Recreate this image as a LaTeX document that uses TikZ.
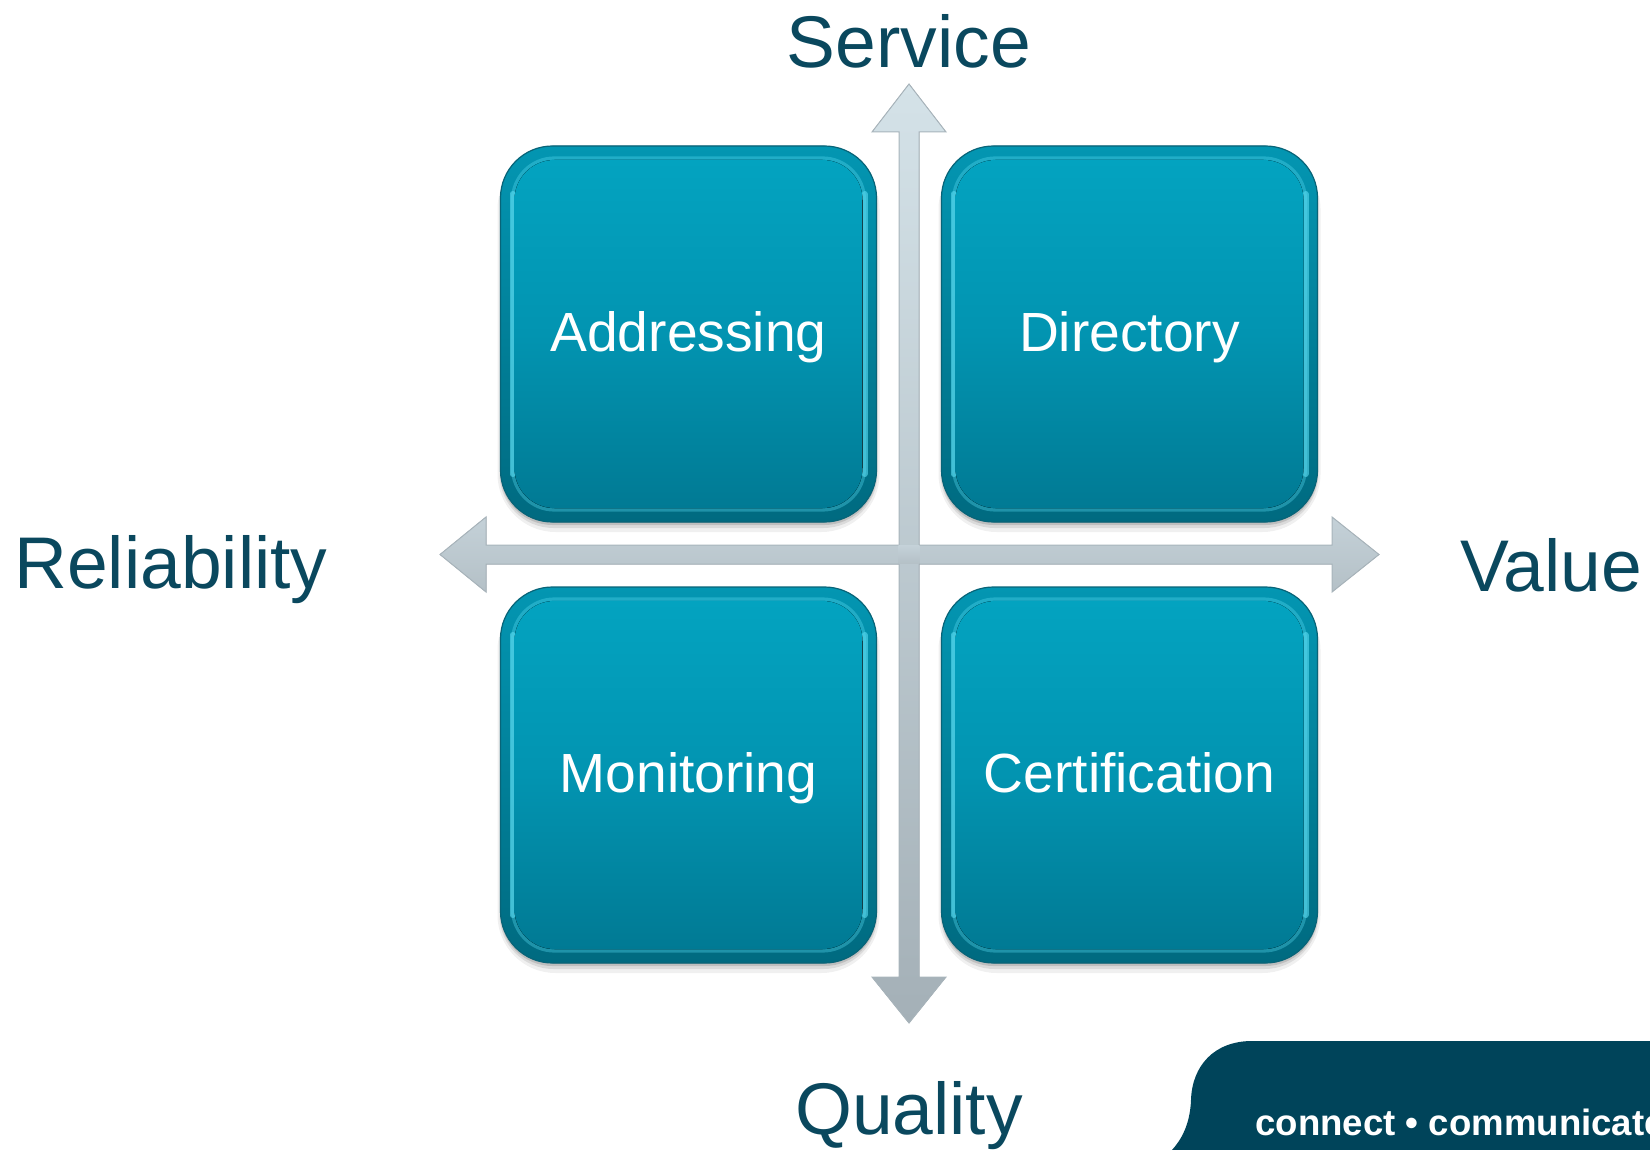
\documentclass[tikz,border=0pt]{standalone}
\usepackage{fontspec}
\setmainfont{Liberation Sans}
\usetikzlibrary{calc}
\definecolor{axistext}{RGB}{10,72,94}
\definecolor{bannerfill}{RGB}{0,68,90}
\definecolor{arrowtop}{RGB}{212,226,232}
\definecolor{arrowbot}{RGB}{164,176,183}
\definecolor{arrowmid}{RGB}{196,209,216}
\definecolor{arrowedge}{RGB}{168,180,187}
\definecolor{tileT}{RGB}{3,163,192}
\definecolor{tileM}{RGB}{2,148,177}
\definecolor{tileB}{RGB}{1,122,148}
\definecolor{edgeT}{RGB}{3,150,178}
\definecolor{edgeB}{RGB}{0,106,128}
\definecolor{tilehi}{RGB}{90,220,242}
\definecolor{tileline}{RGB}{8,100,120}
\tikzset{
  axislabel/.style={inner sep=0pt, text=axistext, font=\fontsize{36.6pt}{40pt}\selectfont},
  tiletext/.style={inner sep=0pt, text=white, font=\fontsize{27.6pt}{30pt}\selectfont,
    text height=20pt, text depth=2.8pt, minimum width=188pt, minimum height=188pt},
  arrowbody/.style={draw=arrowedge, line width=0.5pt},
  bannertext/.style={inner sep=0pt, text=white, font=\bfseries\fontsize{18.3pt}{20pt}\selectfont},
}
\newcommand\tile[4]{%
  \fill[black,opacity=0.06,rounded corners=29pt] (#2-191,#3-183) rectangle (#2+191,#3+198);
  \fill[black,opacity=0.09,rounded corners=27pt] (#2-189,#3-185) rectangle (#2+189,#3+194);
  \fill[black,opacity=0.13,rounded corners=26pt] (#2-188,#3-186) rectangle (#2+188,#3+191);
  \fill[rounded corners=26pt, top color=edgeT, bottom color=edgeB, draw=tileline, line width=0.6pt]
    (#2-188,#3-188) rectangle (#2+188,#3+188);
  \draw[rounded corners=21pt, line width=1.6pt, color=tilehi, opacity=0.35]
    (#2-176,#3-176) rectangle (#2+176,#3+176);
  \draw[line width=3pt, color=tilehi, opacity=0.6, line cap=round]
    (#2-176,#3-140) -- (#2-176,#3+140) (#2+176,#3-140) -- (#2+176,#3+140);
  \fill[rounded corners=20pt, top color=tileT, bottom color=tileB, middle color=tileM]
    (#2-174,#3-174) rectangle (#2+174,#3+174);
  \node[tiletext] (#1) at (#2,#3) {#4};
}
\begin{document}
\begin{tikzpicture}[x=0.5pt,y=-0.5pt]
\useasboundingbox (0,0) rectangle (1650,1150);
% axes
\coordinate (O) at (909,554.5);
\fill[arrowbody, top color=arrowmid, bottom color=arrowmid!92!black]
  (440,554.5) -- (486,517) -- (486,545) -- (1332,545) -- (1332,517) -- (1379,554.5)
  -- (1332,592) -- (1332,564) -- (486,564) -- (486,592) -- cycle;
\fill[arrowbody, top color=arrowtop, bottom color=arrowbot]
  (909,84) -- (946,132) -- (919,132) -- (919,977) -- (946,977) -- (909,1023)
  -- (872,977) -- (899,977) -- (899,132) -- (872,132) -- cycle;
\fill[top color=arrowmid, bottom color=arrowmid!92!black] (898.3,545.6) rectangle (919.7,563.4);
% tiles
\tile{addressing}{688.5}{334}{Addressing}
\tile{directory}{1129.5}{334}{Directory}
\tile{monitoring}{688.5}{775}{Monitoring}
\tile{certification}{1129.5}{775}{Certification}
% axis labels
\node[axislabel, anchor=base] (service) at (909,68) {Service};
\node[axislabel, anchor=base] (quality) at (909,1134) {Quality};
\node[axislabel, anchor=base west] (reliability) at (14,588) {Reliability};
\node[axislabel, anchor=base west] (value) at (1460,591) {Value};
% banner
\begin{scope}
\clip (0,0) rectangle (1650,1150);
\fill[bannerfill] (1650,1041) -- (1252,1041)
  .. controls (1214,1041) and (1192,1066) .. (1191,1100)
  .. controls (1190,1125) and (1181,1140) .. (1172,1150)
  -- (1650,1150) -- cycle;
\node[bannertext, anchor=base west] (tagline) at (1255,1135) {connect • communicate};
\end{scope}
\end{tikzpicture}
\end{document}
